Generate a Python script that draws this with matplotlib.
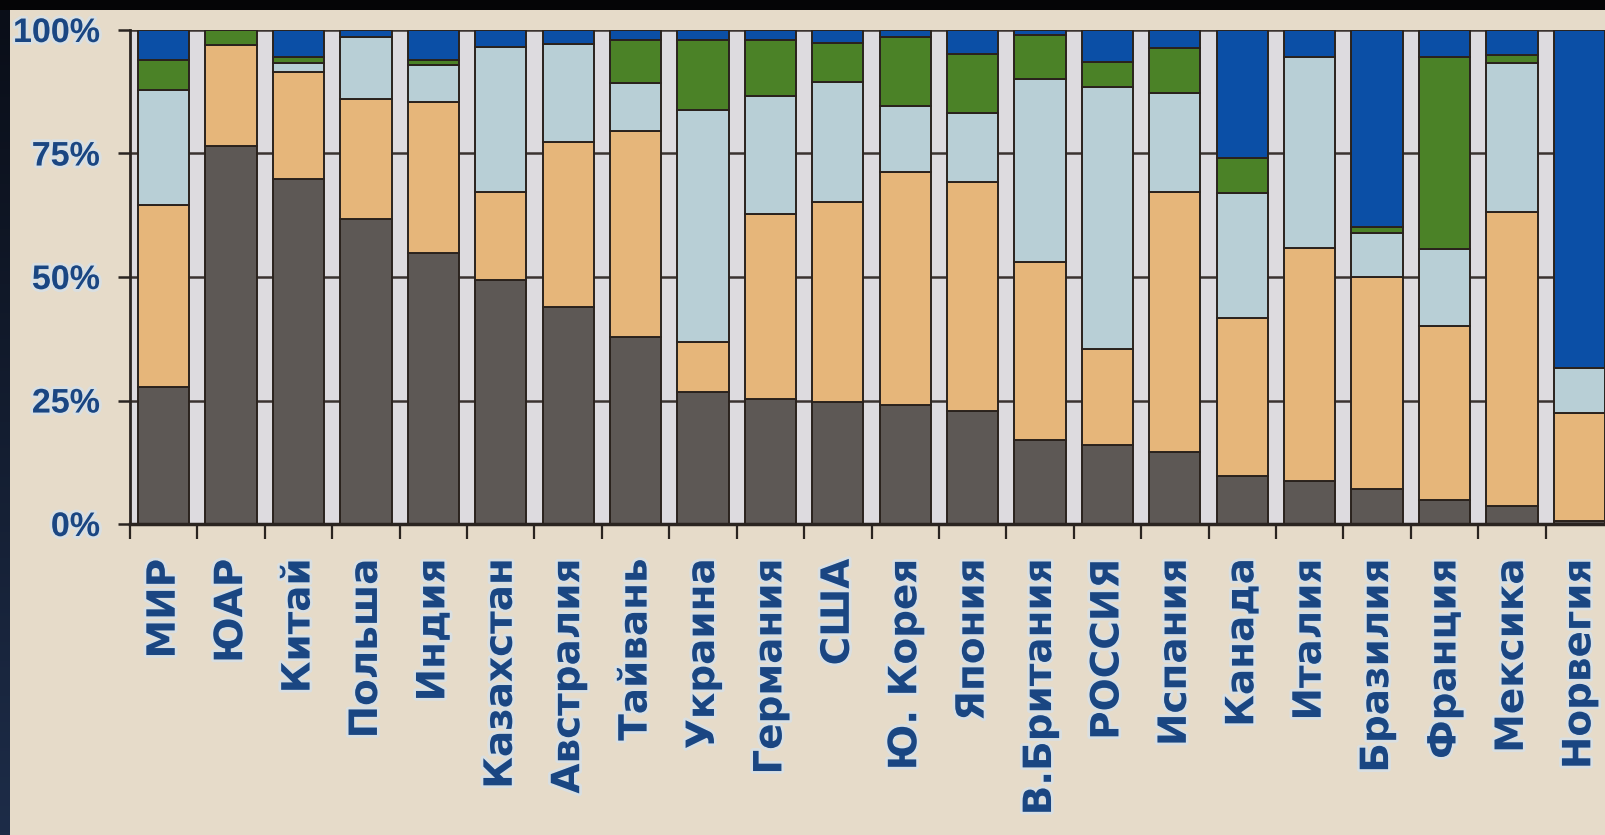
import numpy as np
import matplotlib
matplotlib.use("Agg")
import matplotlib.pyplot as plt
from matplotlib.patches import Rectangle
import matplotlib.patheffects as pe

countries = ['МИР', 'ЮАР', 'Китай', 'Польша', 'Индия', 'Казахстан', 'Австралия',
             'Тайвань', 'Украина', 'Германия', 'США', 'Ю. Корея', 'Япония',
             'В.Британия', 'РОССИЯ', 'Испания', 'Канада', 'Италия', 'Бразилия',
             'Франция', 'Мексика', 'Норвегия']
coal = [27.8, 76.5, 69.8, 61.7, 54.9, 49.3, 43.9, 37.8, 26.7, 25.3, 24.6,
        24.1, 22.9, 17.0, 16.0, 14.5, 9.8, 8.8, 7.0, 4.9, 3.6, 0.7]
oil = [36.8, 20.5, 21.7, 24.3, 30.5, 17.9, 33.5, 41.8, 10.1, 37.5, 40.5,
       47.1, 46.4, 36.1, 19.4, 52.8, 32.0, 47.0, 42.9, 35.2, 59.6, 21.7]
gas = [23.3, 0.0, 1.8, 12.6, 7.5, 29.4, 19.8, 9.7, 47.1, 23.8, 24.3,
       13.4, 13.8, 37.0, 53.0, 19.9, 25.3, 38.7, 9.0, 15.6, 30.1, 9.1]
nuclear = [6.0, 3.0, 1.2, 0.0, 1.0, 0.0, 0.0, 8.7, 14.1, 11.4, 8.0,
           13.9, 12.0, 8.9, 5.2, 9.1, 6.9, 0.0, 1.3, 38.8, 1.6, 0.0]
hydro = [6.1, 0.0, 5.5, 1.4, 6.1, 3.4, 2.8, 2.0, 2.0, 2.0, 2.6,
         1.5, 4.9, 1.0, 6.4, 3.7, 26.0, 5.5, 39.8, 5.5, 5.1, 68.5]
ytick_vals = [0, 25, 50, 75, 100]
ytick_labels = ['0%', '25%', '50%', '75%', '100%']

W, H = 1606, 835
fig = plt.figure(figsize=(W / 100, H / 100), dpi=100)
fig.patch.set_facecolor('#e6dbc9')

# dark slide frame (top and left)
fig.add_artist(Rectangle((0, 1 - 10 / H), 1, 10 / H, transform=fig.transFigure,
                         facecolor='#050506', edgecolor='none', zorder=10))
fax = fig.add_axes([0, 0, 10 / W, 1 - 10 / H])
grad = np.linspace(0, 1, 256).reshape(-1, 1)
fax.imshow(grad, aspect='auto', cmap=matplotlib.colors.LinearSegmentedColormap.from_list(
    'f', ['#0a0e18', '#1d2c48']), origin='upper')
fax.axis('off')

ax = fig.add_axes([130 / W, (H - 524) / H, 1483 / W, 494 / H])
ax.set_facecolor('#dddbdf')

series = [coal, oil, gas, nuclear, hydro]
colors = ['#5d5855', '#e6b67a', '#b8cfd6', '#4b8227', '#0b4fa6']
x = np.arange(len(countries))
bottom = np.zeros(len(countries))
for vals, col in zip(series, colors):
    v = np.array(vals)
    ax.bar(x, v, 0.76, bottom=bottom, color=col, edgecolor='#2a221d',
           linewidth=1.4, zorder=3)
    bottom += v

ax.set_xlim(-0.5, len(countries) - 0.5)
ax.set_ylim(0, 100)
ax.set_yticks(ytick_vals, labels=ytick_labels)
ax.yaxis.grid(True, color='#3a3330', linewidth=1.8, zorder=0)
ax.set_axisbelow(True)
for s in ['top', 'right']:
    ax.spines[s].set_visible(False)
ax.spines['left'].set_color('#2a2420')
ax.spines['left'].set_linewidth(2)
ax.spines['bottom'].set_color('#2a2420')
ax.spines['bottom'].set_linewidth(2.5)
ax.spines['bottom'].set_zorder(5)

ax.set_xticks(x, labels=countries)
ax.set_xticks(np.arange(-0.5, len(countries), 1.0), minor=True)
ax.tick_params(axis='x', which='major', length=0, pad=25)
ax.tick_params(axis='x', which='minor', length=11, width=1.6, color='#2a2420', direction='out')
ax.tick_params(axis='y', which='major', length=8.6, width=1.8, color='#2a2420', pad=13)

glow = [pe.withStroke(linewidth=4, foreground='#d4e2ee', alpha=0.7)]
txtcol = '#1a4682'
for lab in ax.get_xticklabels():
    lab.set_rotation(90)
    lab.set_va('top')
    lab.set_ha('center')
    lab.set_fontfamily('DejaVu Sans')
    lab.set_fontweight('bold')
    lab.set_fontsize(28)
    lab.set_color(txtcol)
    lab.set_path_effects(glow)
for lab in ax.get_yticklabels():
    lab.set_fontfamily('Liberation Sans')
    lab.set_fontweight('bold')
    lab.set_fontsize(24.5)
    lab.set_color(txtcol)
    lab.set_path_effects(glow)

fig.savefig('out.png', dpi=100, facecolor=fig.get_facecolor())
